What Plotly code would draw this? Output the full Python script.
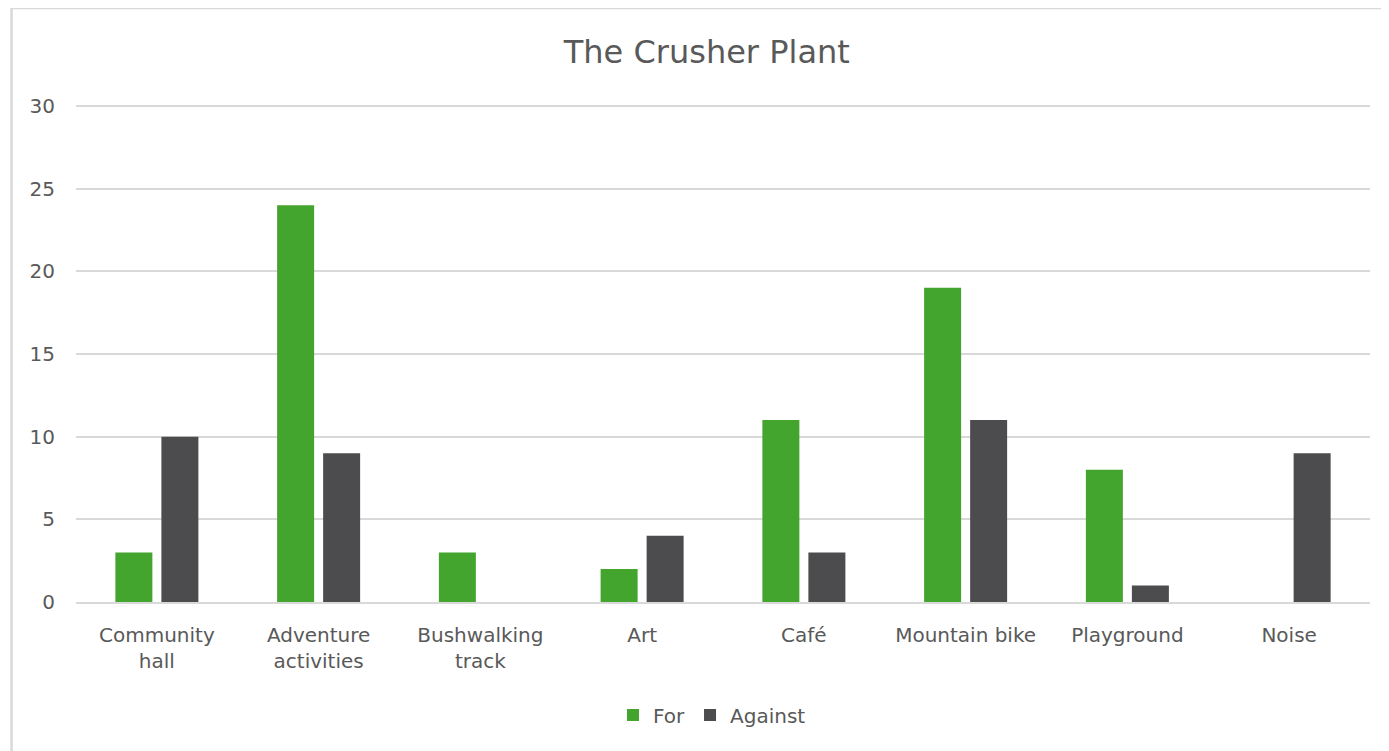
import plotly.graph_objects as go

categories = ["Community<br>hall", "Adventure<br>activities", "Bushwalking<br>track", "Art",
              "Café", "Mountain bike", "Playground", "Noise"]
for_values = [3, 24, 3, 2, 11, 19, 8, 0]
against_values = [10, 9, 0, 4, 3, 11, 1, 9]
y_ticks = [0, 5, 10, 15, 20, 25, 30]

FONT = "DejaVu Sans"
TXT = "#595959"

fig = go.Figure()
fig.add_trace(go.Bar(name="For", x=categories, y=for_values, marker_color="#43A52D",
                     marker_line_width=0))
fig.add_trace(go.Bar(name="Against", x=categories, y=against_values, marker_color="#4C4C4E",
                     marker_line_width=0))

fig.update_layout(
    width=1381, height=743,
    margin=dict(l=68, r=19, t=93, b=149),
    paper_bgcolor="white", plot_bgcolor="white",
    barmode="group", bargap=0.431, bargroupgap=0.196,
    title=dict(text="The Crusher Plant", x=0.506, xanchor="center", y=0.9408, yanchor="middle",
               font=dict(family=FONT, size=32, color=TXT)),
    font=dict(family=FONT, color=TXT, size=20),
    showlegend=True,
    legend=dict(orientation="h", x=0.4915, xanchor="center", y=-0.2255, yanchor="middle",
                font=dict(family=FONT, size=20, color=TXT), itemwidth=30, traceorder="normal"),
    xaxis=dict(showgrid=False, showline=True, linecolor="#d9d9d9", linewidth=2,
               ticks="", ticklabelstandoff=14, tickfont=dict(family=FONT, size=20, color=TXT)),
    yaxis=dict(range=[0, 30.3], tickvals=y_ticks, showgrid=True, gridcolor="#d9d9d9", gridwidth=2,
               zeroline=False, showline=False, ticks="", ticklabelstandoff=20,
               tickfont=dict(family=FONT, size=20, color=TXT)),
    shapes=[dict(type="rect", xref="paper", yref="paper", x0=-0.0498, x1=1.1, y0=-0.6, y1=1.1856,
                 line=dict(color="#d9d9d9", width=2.5), fillcolor="rgba(0,0,0,0)", layer="below")],
)

fig.write_html("out.html")
